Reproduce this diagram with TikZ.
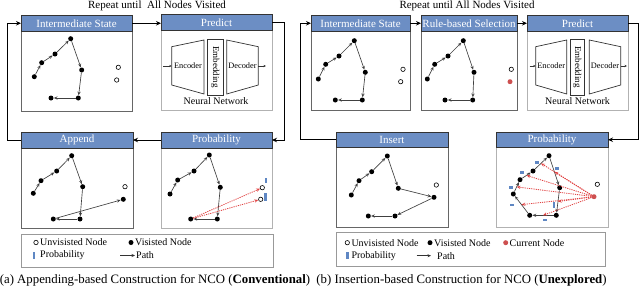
\documentclass[tikz,border=0pt]{standalone}
\usepackage{fontspec}
\setmainfont{Liberation Serif}
\usetikzlibrary{arrows.meta,calc}
\definecolor{hblue}{RGB}{108,142,196}
\definecolor{pblue}{RGB}{95,135,195}
\definecolor{pred}{RGB}{225,65,65}
\definecolor{cred}{RGB}{205,80,80}
\newcommand\mkpanel[8]{%
  \node[#7, minimum width=#3pt-#2pt, minimum height=#6pt-#5pt] (b#1) at ({(#2+#3)/2},{(#5+#6)/2}) {};
  \node[hdr, minimum width=#3pt-#2pt, minimum height=#5pt-#4pt] (h#1) at ({(#2+#3)/2},{(#4+#5)/2}) {#8};
}
\begin{document}
\begin{tikzpicture}[x=1pt,y=-1pt,
 hdr/.style={draw=black!80, line width=0.8pt, fill=hblue, text=white, font=\fontsize{11}{12}\selectfont, inner sep=0pt, outer sep=0pt},
 bodyd/.style={draw=black!60, line width=0.8pt, fill=white, inner sep=0pt, outer sep=0pt},
 bodyl/.style={draw=black!30, line width=0.8pt, fill=white, inner sep=0pt, outer sep=0pt},
 vis/.style={circle, fill=black, inner sep=0pt, minimum size=5pt},
 unv/.style={circle, draw=black, fill=white, line width=0.6pt, inner sep=0pt, minimum size=4.4pt},
 cur/.style={circle, fill=cred, inner sep=0pt, minimum size=5pt},
 pth/.style={draw=black!75, line width=0.65pt, -{Stealth[open,length=3.8pt,width=3.2pt]}},
 rdot/.style={draw=pred, line width=0.8pt, dash pattern=on 1.2pt off 1pt, -{Stealth[open,length=3.8pt,width=3.2pt]}},
 flow/.style={draw=black, line width=0.9pt, -{Stealth[length=5pt,width=4.5pt]}},
 bar/.style={rectangle, fill=pblue, inner sep=0pt, outer sep=0pt},
 nn/.style={draw=black!80, line width=0.7pt, fill=white},
 nnt/.style={font=\fontsize{8.3}{9}\selectfont, inner sep=0pt},
 sarr/.style={draw=black!80, line width=0.6pt, -{Stealth[length=2.5pt,width=2.2pt]}},
 legt/.style={font=\fontsize{10}{11}\selectfont, inner sep=0.5pt, anchor=west},
 legbox/.style={draw=black!40, line width=0.8pt, fill=white, inner sep=0pt},
 captxt/.style={font=\fontsize{12.8}{14}\selectfont, inner sep=0pt},
 reptxt/.style={font=\fontsize{11}{12}\selectfont, inner sep=0pt}
]
\useasboundingbox (0,0) rectangle (640,287);

% ---------- panels ----------
\mkpanel{LI}{21}{132}{15}{31.5}{111.5}{bodyd}{Intermediate State}
\mkpanel{LP}{161}{272}{14.5}{30.5}{110.5}{bodyl}{Predict}
\mkpanel{LA}{21}{133}{132}{148}{228}{bodyd}{Append}
\mkpanel{LB}{161}{272}{132}{148}{228}{bodyl}{Probability}
\mkpanel{RI}{311}{410}{15}{31.5}{110}{bodyd}{Intermediate State}
\mkpanel{RS}{421}{517}{15}{31.5}{110}{bodyd}{Rule-based Selection}
\mkpanel{RP}{527}{628}{15}{31.5}{110}{bodyl}{Predict}
\mkpanel{RN}{336}{448}{132}{147.5}{227}{bodyd}{Insert}
\mkpanel{RB}{496}{608}{132}{147.5}{227}{bodyl}{Probability}

\node[reptxt] (repL) at (157,6) {Repeat until\ \ All Nodes Visited};
\node[reptxt] (repR) at (467,6) {Repeat until All Nodes Visited};

% ---------- flow ----------
\draw[flow] (hLI.east) -- (hLI.east -| hLP.west);
\draw[flow] (hLP.east) -- ++(12,0) |- (hLB.east);
\draw[flow] (hLB.west) -- (hLB.west -| hLA.east);
\draw[flow] (hLA.west) -- ++(-14,0) |- (hLI.west);
\draw[flow] (hRI.east) -- (hRS.west);
\draw[flow] (hRS.east) -- (hRP.west);
\draw[flow] (hRP.east) -- ++(10.5,0) |- (hRB.east);
\draw[flow] (hRN.west) -- ++(-36,0) |- (hRI.west);

% ---------- neural networks ----------
\draw[nn] (171.7,46.7) -- (204,40) -- (204,94) -- (171.7,85) -- cycle;
\draw[nn] (207.3,39.3) rectangle (223.3,95);
\draw[nn] (226.7,40) -- (258.3,46.7) -- (258.3,85) -- (226.7,94) -- cycle;
\node[nnt] (LPenc) at (188,66) {Encoder};
\node[nnt, font=\fontsize{9}{10}\selectfont, rotate=-90] (LPemb) at (215.3,67) {Embedding};
\node[nnt] (LPdec) at (242.5,66) {Decoder};
\coordinate (LPin0) at (163,66); \coordinate (LPin1) at (171.7,66);
\coordinate (LPout0) at (258.3,66); \coordinate (LPout1) at (266,66);
\draw[sarr] (LPin0) -- (LPin1);
\draw[sarr] (LPout0) -- (LPout1);
\node[font=\fontsize{10}{11}\selectfont, inner sep=0pt] (LPnn) at (216,101.5) {Neural Network};

\draw[nn] (535.7,46.7) -- (566.7,40) -- (566.7,94) -- (535.7,85) -- cycle;
\draw[nn] (570,39.3) rectangle (584.3,95);
\draw[nn] (589.3,40) -- (620.7,46.7) -- (620.7,85) -- (589.3,94) -- cycle;
\node[nnt] (RPenc) at (551.2,66) {Encoder};
\node[nnt, font=\fontsize{9}{10}\selectfont, rotate=-90] (RPemb) at (577.2,67) {Embedding};
\node[nnt] (RPdec) at (605,66) {Decoder};
\coordinate (RPin0) at (529.5,66); \coordinate (RPin1) at (535.7,66);
\coordinate (RPout0) at (620.7,66); \coordinate (RPout1) at (627,66);
\draw[sarr] (RPin0) -- (RPin1);
\draw[sarr] (RPout0) -- (RPout1);
\node[font=\fontsize{10}{11}\selectfont, inner sep=0pt] (RPnn) at (577.5,101.5) {Neural Network};

% ---------- left intermediate state ----------
\foreach \n/\x/\y in {1/34.3/76.7,2/41.7/62.7,3/55/54,4/70.7/38.7,5/81.7/70,6/78.3/98,7/51/98}
  \node[vis] (LI\n) at (\x,\y) {};
\foreach \a/\b in {1/2,2/3,3/4,4/5,5/6,6/7} \draw[pth] (LI\a) -- (LI\b);
\node[unv] (LIu1) at (118.3,67.3) {};
\node[unv] (LIu2) at (116.7,80) {};

% ---------- append ----------
\foreach \n/\x/\y in {1/33.3/193.3,2/41/180.7,3/56.7/171,4/71.7/155.7,5/82.7/186.7,6/80/219,7/53.3/219,8/123.3/199.3}
  \node[vis] (LA\n) at (\x,\y) {};
\foreach \a/\b in {1/2,2/3,3/4,4/5,5/6,6/7,7/8} \draw[pth] (LA\a) -- (LA\b);
\node[unv] (LAu) at (125,186.7) {};

% ---------- left probability ----------
\foreach \n/\x/\y in {1/170/194,2/177.7/180,3/194/171,4/209.3/155,5/220.3/187.3,6/217.3/219,7/190.7/219}
  \node[vis] (LB\n) at (\x,\y) {};
\foreach \a/\b in {1/2,2/3,3/4,4/5,5/6,6/7} \draw[pth] (LB\a) -- (LB\b);
\node[unv] (LBu1) at (262.3,187.7) {};
\node[unv] (LBu2) at (260.7,199.3) {};
\draw[rdot] (LB7) -- (LBu1);
\draw[rdot] (LB7) -- (LBu2);
\node[bar, minimum width=2.8pt, minimum height=4.5pt] (LBp1) at (265.9,180.5) {};
\node[bar, minimum width=2.8pt, minimum height=8pt] (LBp2) at (265.2,196.5) {};

% ---------- right intermediate state ----------
\foreach \n/\x/\y in {1/318.3/79,2/325.7/64.3,3/339/56,4/354.3/40.7,5/365.3/72.3,6/362.3/100,7/335.3/100}
  \node[vis] (RI\n) at (\x,\y) {};
\foreach \a/\b in {1/2,2/3,3/4,4/5,5/6,6/7} \draw[pth] (RI\a) -- (RI\b);
\node[unv] (RIu1) at (403,69.3) {};
\node[unv] (RIu2) at (400.7,81.7) {};

% ---------- rule-based selection ----------
\foreach \n/\x/\y in {1/427.3/79,2/434.7/64.3,3/448/56,4/463.3/40.7,5/474/72.3,6/472.7/100,7/445/100}
  \node[vis] (RS\n) at (\x,\y) {};
\foreach \a/\b in {1/2,2/3,3/4,4/5,5/6,6/7} \draw[pth] (RS\a) -- (RS\b);
\node[unv] (RSu) at (511.3,69.3) {};
\node[cur] (RSc) at (510,81.7) {};

% ---------- insert ----------
\foreach \n/\x/\y in {1/351.3/195,2/359/180.7,3/371.7/171.7,4/387.3/156,5/398.3/188.3,8/434/197.3,6/395/216,7/368.3/216}
  \node[vis] (RN\n) at (\x,\y) {};
\foreach \a/\b in {1/2,2/3,3/4,4/5,5/8,8/6,6/7} \draw[pth] (RN\a) -- (RN\b);
\node[unv] (RNu) at (436.3,185) {};

% ---------- right probability ----------
\foreach \n/\x/\y in {A/513.3/194,B/520/179.7,C/533/171,D/549/155.7,E/559.7/187.7,F/556.3/215.3,G/529.7/215.3}
  \node[vis] (RB\n) at (\x,\y) {};
\foreach \a/\b in {A/B,B/C,C/D,D/E,E/F,F/G,G/A} \draw[pth] (RB\a) -- (RB\b);
\node[unv] (RBu) at (597.3,184.3) {};
\node[cur] (RBc) at (594,196.7) {};
\foreach \a/\b in {A/B,B/C,C/D,D/E,E/F,F/G,G/A}
  \draw[rdot] (RBc) -- ($(RB\a)!0.5!(RB\b)$);
\foreach \n/\x/\y in {1/537.3/162.3,2/522.3/172.3,3/511.3/187.3,4/512.3/205,5/544.7/220,6/557.3/168.3}
  \node[bar, minimum width=4pt, minimum height=2.8pt] (RBp\n) at (\x,\y) {};
\node[bar, minimum width=2.8pt, minimum height=6.8pt] (RBp7) at (554,205) {};

% ---------- legends ----------
\node[legbox, minimum width=252pt, minimum height=33pt] (legL) at (147,250.5) {};
\node[unv] (lgLu) at (36,242.5) {};
\node[legt] (lgLut) at (39.5,242.5) {Unvisisted Node};
\node[vis] (lgLv) at (131,242.5) {};
\node[legt] (lgLvt) at (134.5,242.5) {Visisted Node};
\node[bar, minimum width=2.8pt, minimum height=7pt] (lgLb) at (34,255.5) {};
\node[legt] (lgLbt) at (39.5,255.5) {Probability};
\coordinate (lgLa0) at (120,255.5); \coordinate (lgLa1) at (135,255.5);
\draw[draw=black!80, line width=0.7pt, -{Stealth[length=3.5pt,width=3pt]}] (lgLa0) -- (lgLa1);
\node[legt] (lgLat) at (135.5,255.5) {Path};

\node[legbox, minimum width=269pt, minimum height=34pt] (legR) at (470.5,249) {};
\node[unv] (lgRu) at (347.3,242.7) {};
\node[legt] (lgRut) at (350.8,242.7) {Unvisisted Node};
\node[vis] (lgRv) at (430,242.7) {};
\node[legt] (lgRvt) at (433.5,242.7) {Visisted Node};
\node[cur] (lgRc) at (505.7,242.7) {};
\node[legt] (lgRct) at (509,242.7) {Current Node};
\node[bar, minimum width=2.8pt, minimum height=7pt] (lgRb) at (347.3,255.7) {};
\node[legt] (lgRbt) at (350.8,255.7) {Probability};
\coordinate (lgRa0) at (416.7,255.7); \coordinate (lgRa1) at (431,255.7);
\draw[draw=black!80, line width=0.7pt, -{Stealth[length=3.5pt,width=3pt]}] (lgRa0) -- (lgRa1);
\node[legt] (lgRat) at (436.5,255.7) {Path};

% ---------- captions ----------
\node[captxt] (capL) at (155,280) {(a) Appending-based Construction for NCO (\textbf{Conventional})};
\node[captxt] (capR) at (461.5,280) {(b) Insertion-based Construction for NCO (\textbf{Unexplored})};
\end{tikzpicture}
\end{document}
